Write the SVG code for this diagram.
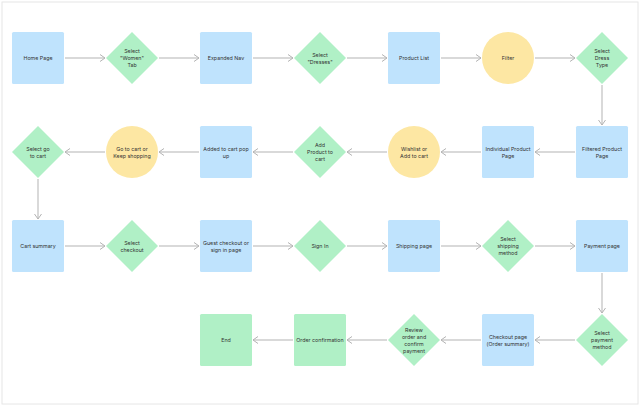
<svg xmlns="http://www.w3.org/2000/svg" width="640" height="406" viewBox="0 0 640 406">
<style>
.b{fill:#bfe3fd}.d{fill:#b0f0c6}.c{fill:#fde7a3}
text{font-family:Inter,"Liberation Sans",sans-serif;font-size:5.3px;fill:#333;text-anchor:middle}
.e{stroke:#b3b3b3;stroke-width:1;fill:none;marker-end:url(#a)}
</style>
<defs><marker id="a" markerWidth="8" markerHeight="8" refX="6" refY="4" orient="auto" markerUnits="userSpaceOnUse"><path d="M1,0.5 L6,4 L1,7.5" fill="none" stroke="#b3b3b3" stroke-width="1"/></marker></defs>
<rect x="0" y="0" width="640" height="406" fill="#fff"/>
<rect x="2" y="2" width="636" height="402" fill="none" stroke="#e6e6e6"/>
<g id="edges">
<path class="e" d="M65,58H105"/><path class="e" d="M159,58H199"/><path class="e" d="M253,58H293"/><path class="e" d="M347,58H387"/><path class="e" d="M441,58H481"/><path class="e" d="M535,58H575"/>
<path class="e" d="M602,85V125"/>
<path class="e" d="M575,152H535"/><path class="e" d="M481,152H441"/><path class="e" d="M387,152H347"/><path class="e" d="M293,152H253"/><path class="e" d="M199,152H159"/><path class="e" d="M105,152H65"/>
<path class="e" d="M38,179V219"/>
<path class="e" d="M65,246H105"/><path class="e" d="M159,246H199"/><path class="e" d="M253,246H293"/><path class="e" d="M347,246H387"/><path class="e" d="M441,246H481"/><path class="e" d="M535,246H575"/>
<path class="e" d="M602,273V313"/>
<path class="e" d="M575,340H535"/><path class="e" d="M481,340H441"/><path class="e" d="M387,340H347"/><path class="e" d="M293,340H253"/>
</g>
<g id="n1"><rect class="b" x="12" y="32" width="52" height="52" rx="1.5"/><text x="38" y="60">Home Page</text></g>
<g id="n2"><path class="d" d="M132,32L158,58L132,84L106,58Z"/><text x="132" y="53">Select</text><text x="132" y="60">"Women"</text><text x="132" y="67">Tab</text></g>
<g id="n3"><rect class="b" x="200" y="32" width="52" height="52" rx="1.5"/><text x="226" y="60">Expanded Nav</text></g>
<g id="n4"><path class="d" d="M320,32L346,58L320,84L294,58Z"/><text x="320" y="56.5">Select</text><text x="320" y="63.5">"Dresses"</text></g>
<g id="n5"><rect class="b" x="388" y="32" width="52" height="52" rx="1.5"/><text x="414" y="60">Product List</text></g>
<g id="n6"><circle class="c" cx="508" cy="58" r="26"/><text x="508" y="60">Filter</text></g>
<g id="n7"><path class="d" d="M602,32L628,58L602,84L576,58Z"/><text x="602" y="53">Select</text><text x="602" y="60">Dress</text><text x="602" y="67">Type</text></g>
<g id="n8"><rect class="b" x="576" y="126" width="52" height="52" rx="1.5"/><text x="602" y="150.5">Filtered Product</text><text x="602" y="157.5">Page</text></g>
<g id="n9"><rect class="b" x="482" y="126" width="52" height="52" rx="1.5"/><text x="508" y="150.5">Individual Product</text><text x="508" y="157.5">Page</text></g>
<g id="n10"><circle class="c" cx="414" cy="152" r="26"/><text x="414" y="150.5">Wishlist or</text><text x="414" y="157.5">Add to cart</text></g>
<g id="n11"><path class="d" d="M320,126L346,152L320,178L294,152Z"/><text x="320" y="147">Add</text><text x="320" y="154">Product to</text><text x="320" y="161">cart</text></g>
<g id="n12"><rect class="b" x="200" y="126" width="52" height="52" rx="1.5"/><text x="226" y="150.5">Added to cart pop</text><text x="226" y="157.5">up</text></g>
<g id="n13"><circle class="c" cx="132" cy="152" r="26"/><text x="132" y="150.5">Go to cart or</text><text x="132" y="157.5">Keep shopping</text></g>
<g id="n14"><path class="d" d="M38,126L64,152L38,178L12,152Z"/><text x="38" y="150.5">Select go</text><text x="38" y="157.5">to cart</text></g>
<g id="n15"><rect class="b" x="12" y="220" width="52" height="52" rx="1.5"/><text x="38" y="248">Cart summary</text></g>
<g id="n16"><path class="d" d="M132,220L158,246L132,272L106,246Z"/><text x="132" y="244.5">Select</text><text x="132" y="251.5">checkout</text></g>
<g id="n17"><rect class="b" x="200" y="220" width="52" height="52" rx="1.5"/><text x="226" y="244.5">Guest checkout or</text><text x="226" y="251.5">sign in page</text></g>
<g id="n18"><path class="d" d="M320,220L346,246L320,272L294,246Z"/><text x="320" y="248">Sign In</text></g>
<g id="n19"><rect class="b" x="388" y="220" width="52" height="52" rx="1.5"/><text x="414" y="248">Shipping page</text></g>
<g id="n20"><path class="d" d="M508,220L534,246L508,272L482,246Z"/><text x="508" y="241">Select</text><text x="508" y="248">shipping</text><text x="508" y="255">method</text></g>
<g id="n21"><rect class="b" x="576" y="220" width="52" height="52" rx="1.5"/><text x="602" y="248">Payment page</text></g>
<g id="n22"><path class="d" d="M602,314L628,340L602,366L576,340Z"/><text x="602" y="335">Select</text><text x="602" y="342">payment</text><text x="602" y="349">method</text></g>
<g id="n23"><rect class="b" x="482" y="314" width="52" height="52" rx="1.5"/><text x="508" y="338.5">Checkout page</text><text x="508" y="345.5">(Order summary)</text></g>
<g id="n24"><path class="d" d="M414,314L440,340L414,366L388,340Z"/><text x="414" y="331.5">Review</text><text x="414" y="338.5">order and</text><text x="414" y="345.5">confirm</text><text x="414" y="352.5">payment</text></g>
<g id="n25"><rect class="d" x="294" y="314" width="52" height="52" rx="1.5"/><text x="320" y="342">Order confirmation</text></g>
<g id="n26"><rect class="d" x="200" y="314" width="52" height="52" rx="1.5"/><text x="226" y="342">End</text></g>
</svg>
